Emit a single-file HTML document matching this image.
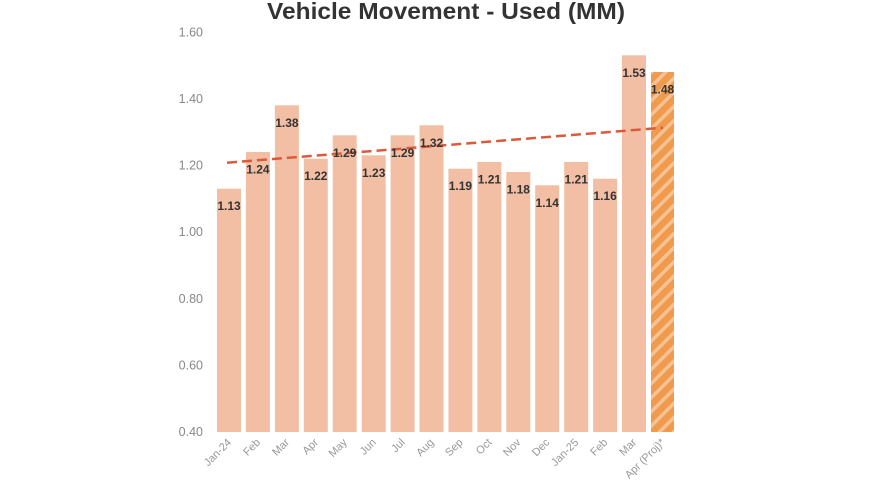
<!DOCTYPE html>
<html><head><meta charset="utf-8"><style>
html,body{margin:0;padding:0;background:#fff;}
svg{display:block;}
</style></head><body>
<svg width="880" height="495" viewBox="0 0 880 495" xmlns="http://www.w3.org/2000/svg" font-family="'Liberation Sans', sans-serif">
<defs>
<pattern id="hatch" patternUnits="userSpaceOnUse" width="10" height="10" patternTransform="rotate(45)">
<rect x="0" y="0" width="10" height="10" fill="#ef9a4c"/>
<rect x="0" y="0" width="3.5" height="10" fill="#f7c293"/>
</pattern>
</defs>
<text x="446" y="19" text-anchor="middle" font-size="23" font-weight="bold" fill="#333" textLength="358" lengthAdjust="spacingAndGlyphs">Vehicle Movement - Used (MM)</text>
<g font-size="12.5" fill="#888" text-anchor="end">
<text x="203" y="36.5">1.60</text>
<text x="203" y="103">1.40</text>
<text x="203" y="169.5">1.20</text>
<text x="203" y="236">1.00</text>
<text x="203" y="303">0.80</text>
<text x="203" y="369.5">0.60</text>
<text x="203" y="436">0.40</text>
</g>
<g fill="#f2bfa4">
<rect x="217" y="188.7" width="24" height="243.3"/>
<rect x="245.9" y="152" width="24" height="280"/>
<rect x="274.9" y="105.3" width="24" height="326.7"/>
<rect x="303.8" y="158.7" width="24" height="273.3"/>
<rect x="332.7" y="135.3" width="24" height="296.7"/>
<rect x="361.7" y="155.3" width="24" height="276.7"/>
<rect x="390.6" y="135.3" width="24" height="296.7"/>
<rect x="419.5" y="125.3" width="24" height="306.7"/>
<rect x="448.4" y="168.7" width="24" height="263.3"/>
<rect x="477.4" y="162" width="24" height="270"/>
<rect x="506.3" y="172" width="24" height="260"/>
<rect x="535.2" y="185.3" width="24" height="246.7"/>
<rect x="564.2" y="162" width="24" height="270"/>
<rect x="593.1" y="178.7" width="24" height="253.3"/>
<rect x="622" y="55.3" width="24" height="376.7"/>
</g>
<rect x="651" y="72" width="23" height="360" fill="url(#hatch)"/>
<line x1="227" y1="162.7" x2="663" y2="127.7" stroke="#dc5a3c" stroke-width="2.5" stroke-dasharray="10,5"/>
<g font-size="12" font-weight="bold" fill="#333" text-anchor="middle">
<text x="229" y="210">1.13</text>
<text x="257.9" y="173.5">1.24</text>
<text x="286.9" y="126.8">1.38</text>
<text x="315.8" y="180.2">1.22</text>
<text x="344.7" y="156.8">1.29</text>
<text x="373.7" y="176.8">1.23</text>
<text x="402.6" y="156.8">1.29</text>
<text x="431.5" y="146.8">1.32</text>
<text x="460.4" y="190.2">1.19</text>
<text x="489.4" y="183.5">1.21</text>
<text x="518.3" y="193.5">1.18</text>
<text x="547.2" y="206.8">1.14</text>
<text x="576.2" y="183.5">1.21</text>
<text x="605.1" y="200.2">1.16</text>
<text x="634" y="76.8">1.53</text>
<text x="662.5" y="93.5">1.48</text>
</g>
<g font-size="11" fill="#999" text-anchor="end">
<text transform="translate(232,443) rotate(-45)">Jan-24</text>
<text transform="translate(260.9,443) rotate(-45)">Feb</text>
<text transform="translate(289.9,443) rotate(-45)">Mar</text>
<text transform="translate(318.8,443) rotate(-45)">Apr</text>
<text transform="translate(347.7,443) rotate(-45)">May</text>
<text transform="translate(376.7,443) rotate(-45)">Jun</text>
<text transform="translate(405.6,443) rotate(-45)">Jul</text>
<text transform="translate(434.5,443) rotate(-45)">Aug</text>
<text transform="translate(463.4,443) rotate(-45)">Sep</text>
<text transform="translate(492.4,443) rotate(-45)">Oct</text>
<text transform="translate(521.3,443) rotate(-45)">Nov</text>
<text transform="translate(550.2,443) rotate(-45)">Dec</text>
<text transform="translate(579.2,443) rotate(-45)">Jan-25</text>
<text transform="translate(608.1,443) rotate(-45)">Feb</text>
<text transform="translate(637,443) rotate(-45)">Mar</text>
<text transform="translate(665.5,443) rotate(-45)">Apr (Proj)*</text>
</g>
</svg>
</body></html>
